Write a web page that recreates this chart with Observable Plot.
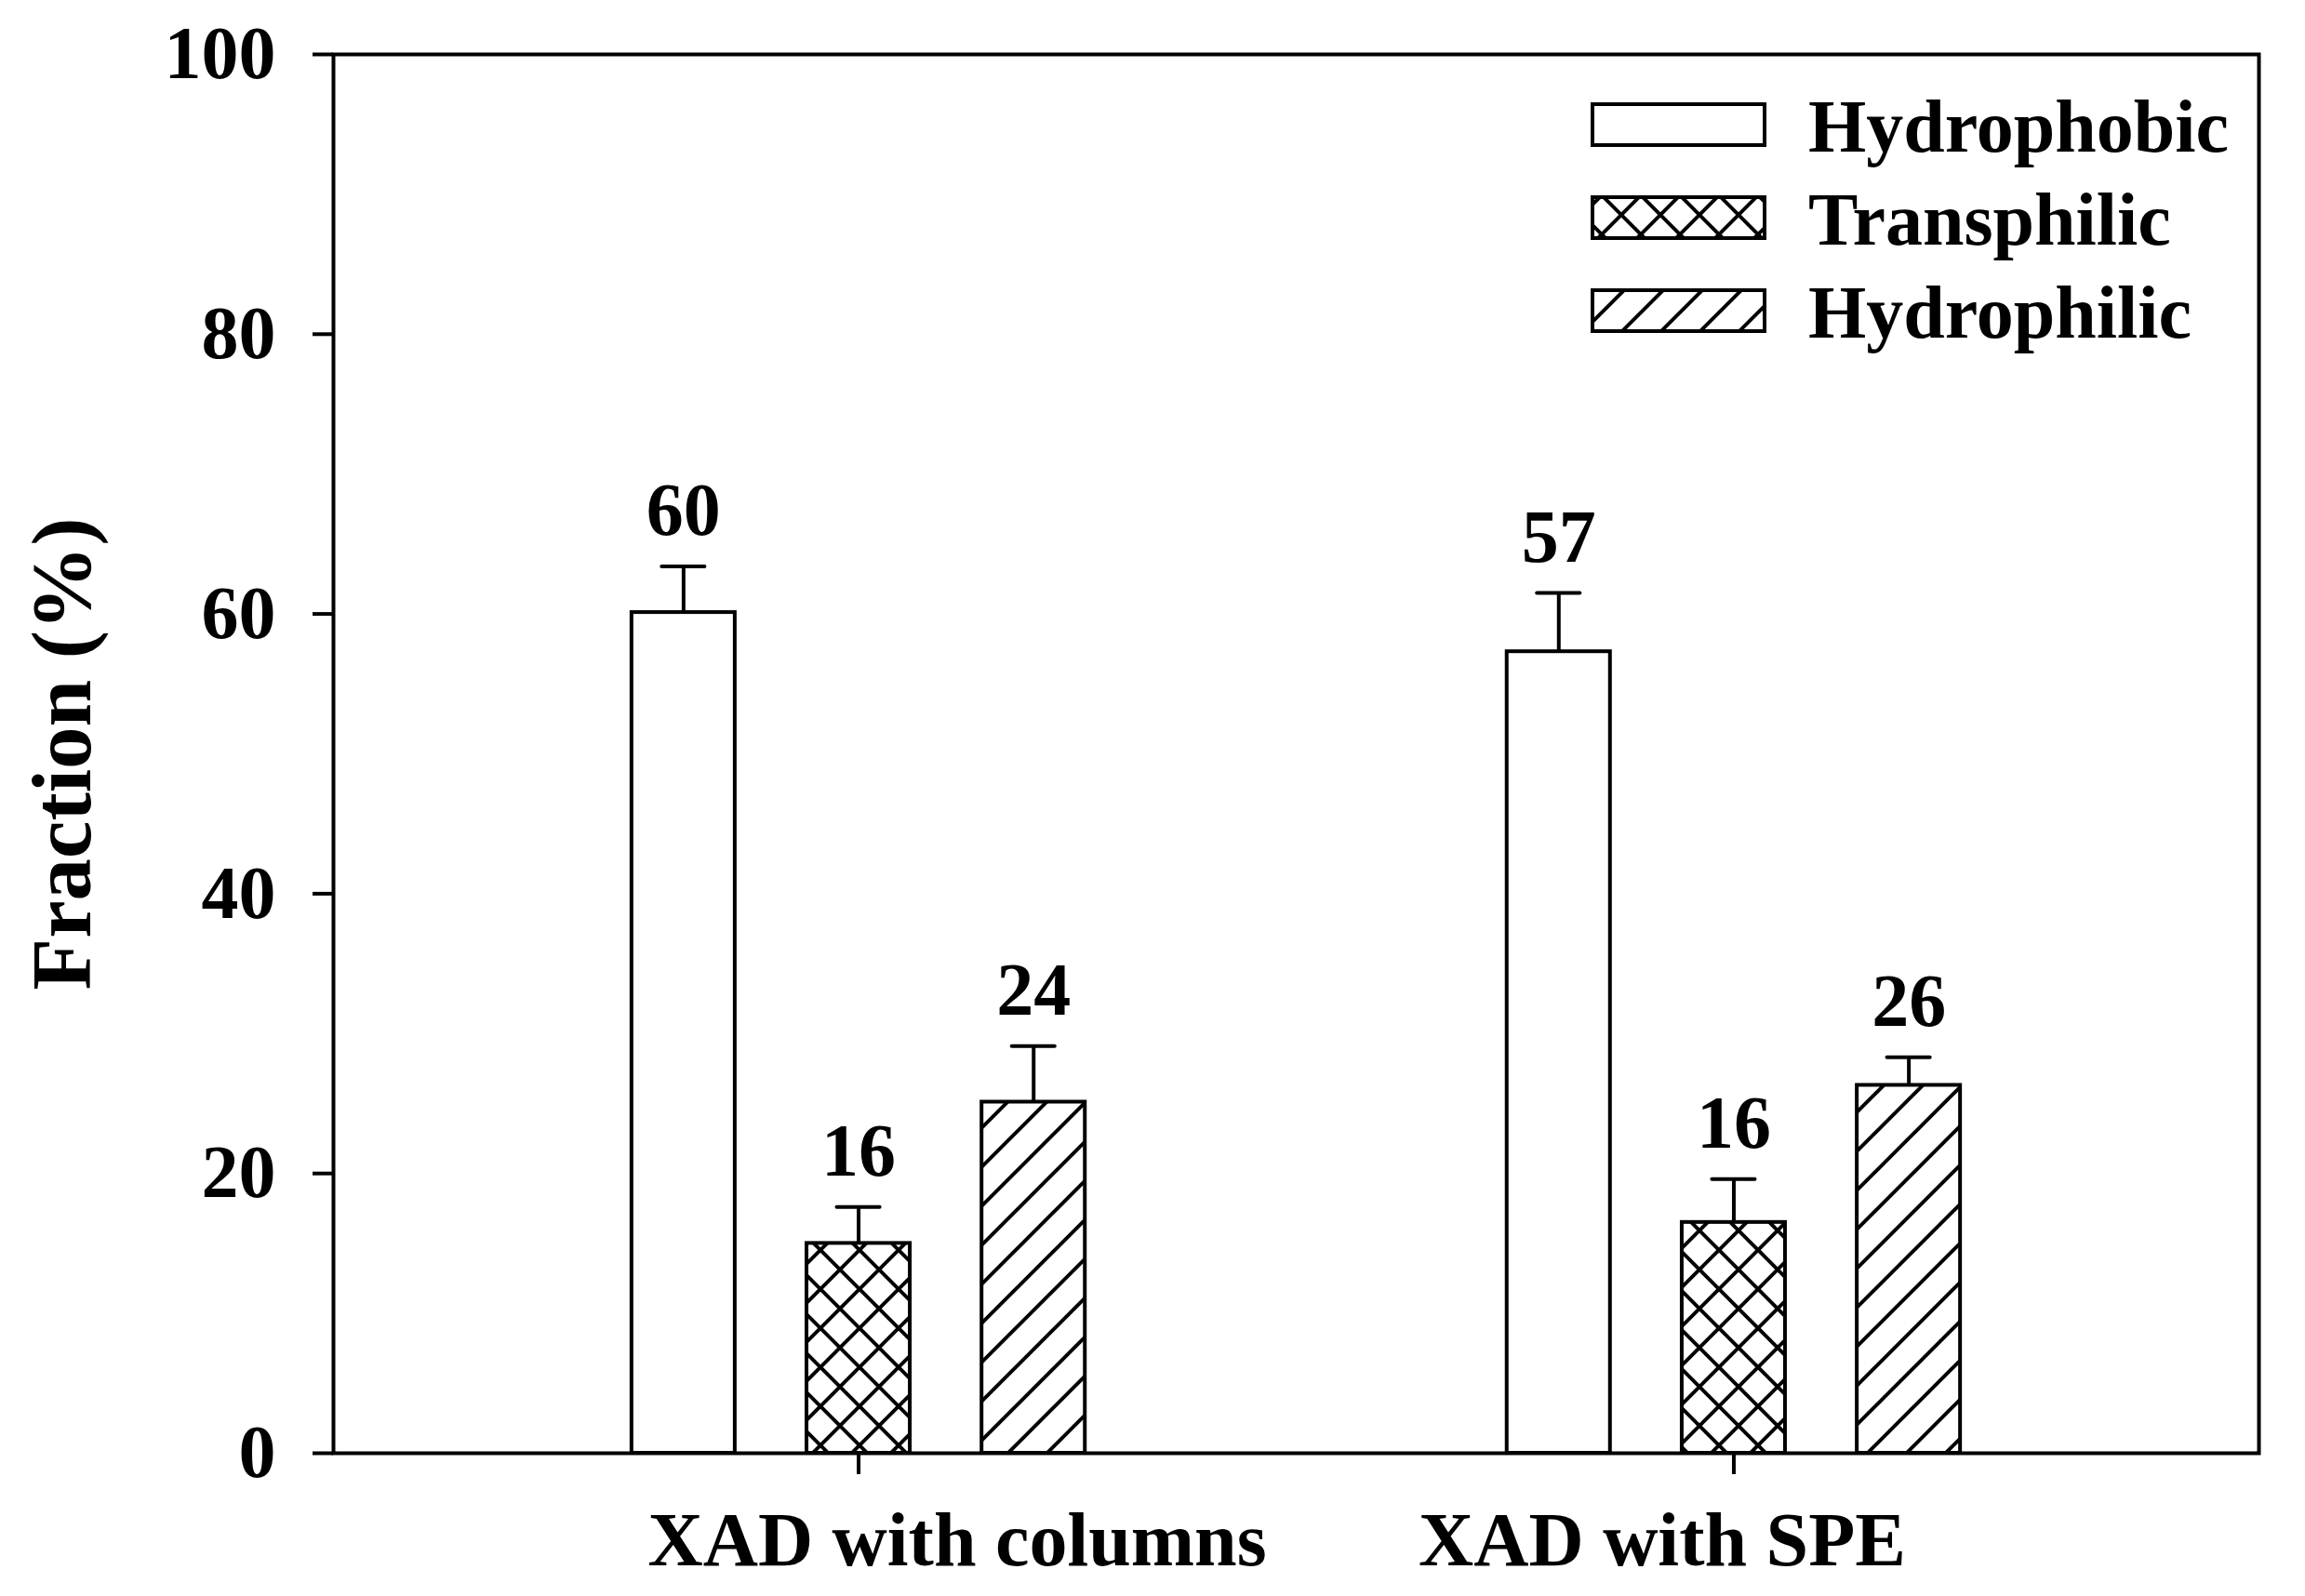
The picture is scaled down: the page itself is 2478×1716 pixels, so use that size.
<!DOCTYPE html>
<html><head><meta charset="utf-8">
<script src="https://cdn.jsdelivr.net/npm/d3@7"></script>
<script src="https://cdn.jsdelivr.net/npm/@observablehq/plot@0.6"></script>
<style>html,body{margin:0;padding:0;background:#fff;} #chart svg{display:block;}</style>
</head><body><div id="chart"></div>
<script>
const categories = ["XAD with columns", "XAD with SPE"];
const series = ["Hydrophobic", "Transphilic", "Hydrophilic"];
const hydrophobic = [60.1, 57.3];
const transphilic = [15.0, 16.5];
const hydrophilic = [25.1, 26.3];
const hydrophobicErr = [3.3, 4.2];
const transphilicErr = [2.6, 3.1];
const hydrophilicErr = [4.0, 2.0];
const hydrophobicLabel = ["60", "57"];
const transphilicLabel = ["16", "16"];
const hydrophilicLabel = ["24", "26"];
const yTicks = [0, 20, 40, 60, 80, 100];

const seriesValues = [hydrophobic, transphilic, hydrophilic];
const seriesErrs = [hydrophobicErr, transphilicErr, hydrophilicErr];
const seriesLabels = [hydrophobicLabel, transphilicLabel, hydrophilicLabel];
const fills = ["white", "url(#crosshatch)", "url(#hatch)"];

const rows = [];
categories.forEach((c, gi) => {
  series.forEach((s, si) => {
    const v = seriesValues[si][gi];
    rows.push({category: c, series: s, x: gi + (si - 1) * 0.2, value: v, top: v + seriesErrs[si][gi], label: seriesLabels[si][gi]});
  });
});

const halfBar = 0.059, halfCap = 0.0245;
const font = '"Liberation Serif", "Times New Roman", serif';

const plot = Plot.plot({
  width: 2478, height: 1716,
  marginLeft: 358, marginRight: 50, marginTop: 58, marginBottom: 154,
  x: {domain: [-0.6, 1.6]},
  y: {domain: [0, 100]},
  color: {type: "ordinal", domain: series, range: fills},
  style: {fontFamily: font, fontWeight: "bold", fontSize: "80px", color: "black", background: "white"},
  marks: [
    Plot.rect(rows, {x1: d => d.x - halfBar, x2: d => d.x + halfBar, y1: d => 0, y2: "value", fill: "series", stroke: "black", strokeWidth: 4}),
    Plot.ruleX(rows, {x: "x", y1: "value", y2: "top", stroke: "black", strokeWidth: 4}),
    Plot.ruleY(rows, {y: "top", x1: d => d.x - halfCap, x2: d => d.x + halfCap, stroke: "black", strokeWidth: 4, strokeLinecap: "round"}),
    Plot.text(rows, {x: "x", y: "top", text: "label", lineAnchor: "bottom", dy: -34, fontSize: 80, fontWeight: "bold", fill: "black"}),
    Plot.axisY({ticks: yTicks, tickSize: 22, tickPadding: 40, strokeWidth: 4, fontSize: 80, label: null}),
    Plot.axisX({ticks: [0, 1], tickSize: 23, strokeWidth: 4, tickFormat: () => "", label: null}),
    Plot.text([categories[0]], {x: d => categories.indexOf(d), text: d => d, frameAnchor: "bottom", textAnchor: "middle", lineAnchor: "bottom", dx: 106, dy: 120, fontSize: 82, fontWeight: "bold", fill: "black"}),
    Plot.text([categories[1]], {x: d => categories.indexOf(d), text: d => d, frameAnchor: "bottom", textAnchor: "middle", lineAnchor: "bottom", dx: -77, dy: 120, fontSize: 82, fontWeight: "bold", fill: "black"}),
    Plot.text(["Fraction (%)"], {text: d => d, frameAnchor: "left", textAnchor: "middle", rotate: -90, lineAnchor: "bottom", dx: -262, dy: 0, fontSize: 91, fontWeight: "bold", fill: "black"}),
    Plot.frame({stroke: "black", strokeWidth: 4})
  ]
});

const svg = d3.select(plot);
const defs = svg.insert("defs", ":first-child");
const hatch = defs.append("pattern").attr("id", "hatch").attr("patternUnits", "userSpaceOnUse").attr("width", 42).attr("height", 42);
hatch.append("rect").attr("width", 42).attr("height", 42).attr("fill", "white");
hatch.append("path").attr("d", "M-21,21L21,-21M0,42L42,0M21,63L63,21").attr("stroke", "black").attr("stroke-width", 4);
const cross = defs.append("pattern").attr("id", "crosshatch").attr("patternUnits", "userSpaceOnUse").attr("width", 42).attr("height", 42);
cross.append("rect").attr("width", 42).attr("height", 42).attr("fill", "white");
cross.append("path").attr("d", "M-21,21L21,-21M0,42L42,0M21,63L63,21M-21,21L21,63M0,0L42,42M21,-21L63,21").attr("stroke", "black").attr("stroke-width", 4);

// legend
const lg = svg.append("g").attr("class", "legend");
series.forEach((s, i) => {
  const y0 = 112 + i * 100;
  lg.append("rect").attr("x", 1712).attr("y", y0).attr("width", 185).attr("height", 44)
    .attr("fill", fills[i]).attr("stroke", "black").attr("stroke-width", 4);
  lg.append("text").attr("x", 1944).attr("y", y0 + 51).attr("font-size", 80).attr("font-weight", "bold")
    .attr("font-family", font).attr("text-anchor", "start").attr("fill", "black").text(s);
});

document.getElementById("chart").appendChild(plot);
</script>
</body></html>
